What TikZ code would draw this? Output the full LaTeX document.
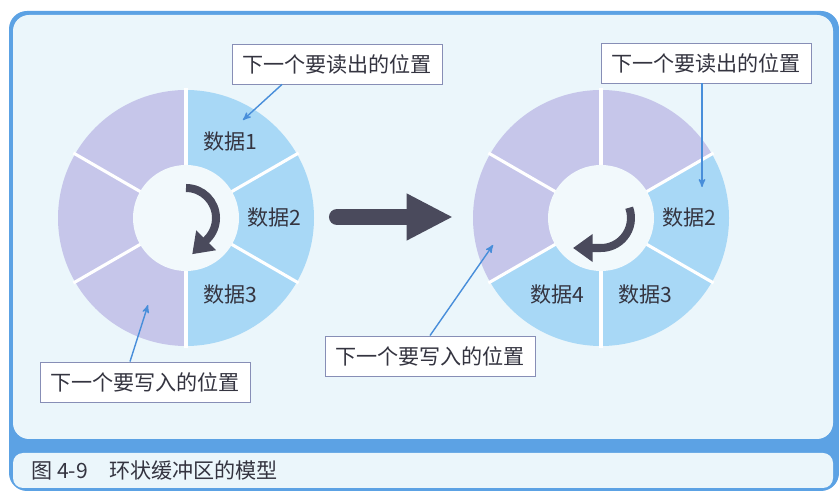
\documentclass[tikz,border=0pt]{standalone}
\usepackage{fontspec}
\setmainfont{Noto Sans CJK SC}
\usetikzlibrary{%
  arrows,%
  arrows.meta,% wg. Triangle
  calc,%
  positioning%
}
\definecolor{framecol}{RGB}{92,162,228}
\definecolor{panelcol}{RGB}{235,246,251}
\definecolor{fullcol}{RGB}{168,216,246}
\definecolor{freecol}{RGB}{198,198,234}
\definecolor{hubcol}{RGB}{242,249,252}
\definecolor{turncol}{RGB}{74,74,92}
\definecolor{ptrcol}{RGB}{72,142,218}
\definecolor{boxcol}{RGB}{135,142,182}
\definecolor{txtcol}{RGB}{52,52,64}

\begin{document}
\begin{tikzpicture}[
  x=0.025cm, y=0.025cm,
  font=\fontsize{15}{18}\selectfont,
  >=stealth',
  line width=1pt,
  posbox/.style={draw=boxcol,fill=white,text=txtcol,line width=0.6pt,
    minimum width=5.25cm,minimum height=1cm,inner sep=0pt},
  ptr/.style={->,draw=ptrcol,line width=1pt},
  turn/.style={draw=turncol,line width=5.7pt,-{Triangle[width=19pt,length=14pt]}},
]
\useasboundingbox (0,0) rectangle (839,491);
\fill[framecol,rounded corners=0.45cm] (9,0) rectangle (839,480);
\fill[panelcol,rounded corners=0.4cm] (13,52) rectangle (833,476);
\fill[panelcol,rounded corners=0.25cm] (13,3) rectangle (833,38);
\node[anchor=west,text=txtcol] (cap) at (26,21) {图 4-9\quad 环状缓冲区的模型};

\coordinate (cL) at (186,273);
\coordinate (cR) at (601,273);
\foreach \c/\a/\col in {cL/60/fullcol,cL/0/fullcol,cL/-60/fullcol,
  cL/120/freecol,cL/180/freecol,cL/240/freecol,
  cR/0/fullcol,cR/-60/fullcol,cR/-120/fullcol,
  cR/60/freecol,cR/120/freecol,cR/180/freecol} {
  \fill[\col] (\c) -- ($(\c)+(\a-30:128)$) arc[start angle=\a-30,end angle=\a+30,radius=128] -- cycle;
}
\foreach \c in {cL,cR} {
  \foreach \a in {30,90,...,330} {
    \draw[white,line width=2.2pt] (\c) -- ($(\c)+(\a:130)$);
  }
  \fill[hubcol] (\c) circle[radius=53];
}
\foreach \c/\a/\t in {cL/60/1,cL/0/2,cL/-60/3,cR/0/2,cR/-60/3,cR/-120/4} {
  \node[text=txtcol] (d\c\t) at ($(\c)+(\a:88)$) {数据\t};
}

\draw[turn] ($(cL)+(90:30)$) arc[start angle=90,end angle=-45,radius=30] -- ++(-15,-15);
\draw[turn] ($(cR)+(20:30)$) arc[start angle=20,end angle=-90,radius=30] -- ++(-28,0);

\coordinate (mvA) at (337,274);
\coordinate (mvB) at (453,274);
\draw[turncol,line width=11.4pt,line cap=round,-{Triangle[width=31pt,length=33pt]}] (mvA) -- (mvB);

\node[posbox] (rdL) at (337,427) {下一个要读出的位置};
\node[posbox] (rdR) at (706,428) {下一个要读出的位置};
\node[posbox] (wrL) at (145,109) {下一个要写入的位置};
\node[posbox] (wrR) at (430,135) {下一个要写入的位置};

\coordinate (rdLtip) at (243,371);
\coordinate (rdRtip) at (702,304);
\coordinate (wrLtip) at (148,186);
\coordinate (wrRtip) at (493,246);
\draw[ptr] ($(rdL.south)+(-55,0)$) -- (rdLtip);
\draw[ptr] (rdR.south -| rdRtip) -- (rdRtip);
\draw[ptr] ($(wrL.north)+(-15,0)$) -- (wrLtip);
\draw[ptr] (wrR.north) -- (wrRtip);
\end{tikzpicture}
\end{document}
